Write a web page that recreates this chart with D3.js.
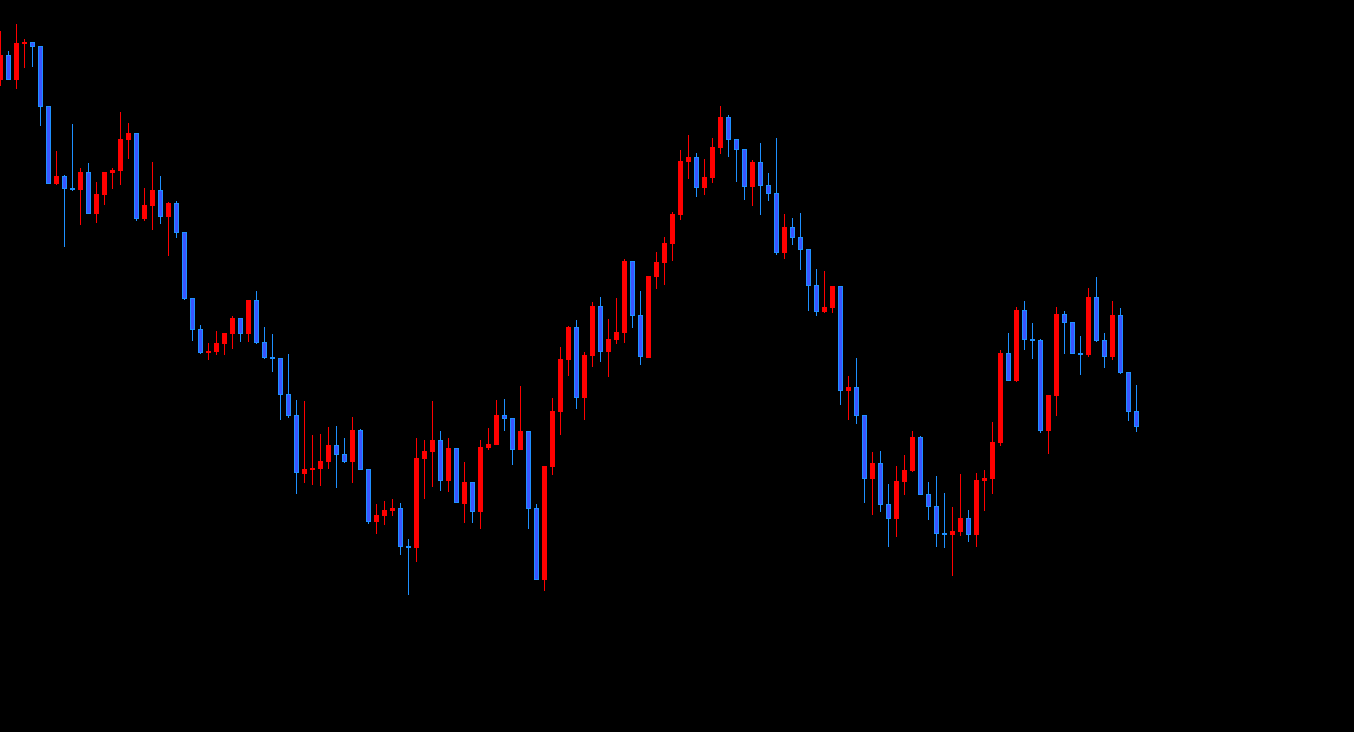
<!DOCTYPE html>
<html>
<head>
<meta charset="utf-8">
<script src="https://cdn.jsdelivr.net/npm/d3@7"></script>
<style>
html,body{margin:0;padding:0;background:#000;overflow:hidden;}
svg{display:block;}
</style>
</head>
<body>
<svg id="chart" width="1354" height="732"></svg>
<script>
const open  = [720,745,720,756,758,754,694,616,624,612,610,628,586,605,627,629,660,667,581,594,610,583,597,568,502,471,447,448,456,466,482,466,500,458,443,442,406,385,326,330,331,338,355,346,338,370,331,278,284,289,292,254,252,341,348,360,319,352,296,318,288,352,355,385,382,350,369,292,220,333,388,440,473,402,444,494,448,460,467,539,485,442,523,537,556,585,638,643,612,622,652,683,661,651,613,638,615,607,547,573,563,551,515,488,492,514,409,413,385,321,337,296,281,318,329,363,306,294,267,265,268,282,265,319,321,357,447,419,490,461,460,369,404,486,478,447,445,503,460,443,485,428,389];
const high  = [769,749,776,761,758,754,694,649,625,676,632,637,618,628,632,688,677,667,612,638,624,598,599,568,502,475,457,469,467,484,482,500,509,473,466,442,446,400,399,365,366,373,374,362,383,371,331,296,299,301,297,261,362,360,399,369,362,352,338,318,360,372,400,401,382,414,369,296,334,402,453,474,480,448,498,503,481,502,541,539,509,524,548,563,588,650,665,647,641,662,694,685,661,651,640,657,627,662,586,582,587,551,531,529,514,514,424,442,385,348,349,316,334,345,369,364,318,324,307,293,326,290,327,330,378,450,467,493,499,477,461,405,493,489,478,464,512,523,467,499,492,428,415];
const low   = [714,720,711,732,733,674,616,615,553,609,575,586,577,595,611,615,641,579,579,570,576,544,562,500,459,446,440,445,445,451,458,458,456,441,428,380,382,306,317,315,314,331,312,337,317,330,276,266,275,284,245,205,238,301,313,309,308,297,277,277,271,350,355,369,335,350,271,220,209,325,365,424,391,380,433,438,423,456,457,472,435,442,511,515,539,580,621,603,605,617,646,643,618,600,594,585,599,545,541,555,530,489,484,487,487,395,380,376,297,285,288,253,263,305,328,305,280,253,252,224,264,258,253,289,306,354,419,418,450,441,367,346,384,446,446,425,443,458,432,440,426,379,368];
const close = [745,720,757,758,753,693,616,624,611,610,628,586,606,628,630,661,667,581,595,610,583,597,567,501,470,447,449,457,467,482,466,500,457,442,441,405,384,327,331,332,339,355,345,338,370,330,278,285,290,292,253,252,342,349,360,319,352,297,318,288,353,356,385,381,350,369,291,220,334,389,441,473,402,445,494,448,461,468,539,484,443,524,538,557,586,639,643,612,623,653,683,660,650,613,638,614,606,547,573,562,550,514,488,493,514,409,413,384,321,337,295,281,319,330,363,305,293,266,265,269,282,265,320,322,358,447,419,490,460,459,369,405,486,477,446,445,503,459,443,485,427,388,373];

const candles = open.map((o, i) => ({i, o, h: high[i], l: low[i], c: close[i]}));

const svg = d3.select("#chart");
svg.append("rect").attr("width", 1354).attr("height", 732).attr("fill", "#000");

const x = d3.scaleLinear().domain([0, candles.length - 1]).range([0, (candles.length - 1) * 8]);
const y = d3.scaleLinear().domain([68, 800]).range([732, 0]);

const upCol = "#ff0000";
const dnWick = "#1e90ff";
const dnFill = "#3a55ff";

const g = svg.append("g").attr("shape-rendering", "crispEdges");

g.selectAll("line.wick").data(candles).join("line")
  .attr("class", "wick")
  .attr("x1", d => Math.round(x(d.i)) + 0.5)
  .attr("x2", d => Math.round(x(d.i)) + 0.5)
  .attr("y1", d => y(d.h))
  .attr("y2", d => y(d.l))
  .attr("stroke", d => d.c >= d.o ? upCol : dnWick)
  .attr("stroke-width", 1);

g.selectAll("rect.up").data(candles.filter(d => d.c >= d.o)).join("rect")
  .attr("class", "up")
  .attr("x", d => Math.round(x(d.i)) - 2)
  .attr("width", 5)
  .attr("y", d => y(Math.max(d.o, d.c)))
  .attr("height", d => Math.max(2, y(Math.min(d.o, d.c)) - y(Math.max(d.o, d.c))))
  .attr("fill", upCol);

g.selectAll("rect.dn").data(candles.filter(d => d.c < d.o)).join("rect")
  .attr("class", "dn")
  .attr("x", d => Math.round(x(d.i)) - 1.5)
  .attr("width", 4)
  .attr("y", d => y(Math.max(d.o, d.c)) + 0.5)
  .attr("height", d => Math.max(1, y(Math.min(d.o, d.c)) - y(Math.max(d.o, d.c)) - 1))
  .attr("fill", dnFill)
  .attr("stroke", dnWick)
  .attr("stroke-width", 1);
</script>
</body>
</html>
